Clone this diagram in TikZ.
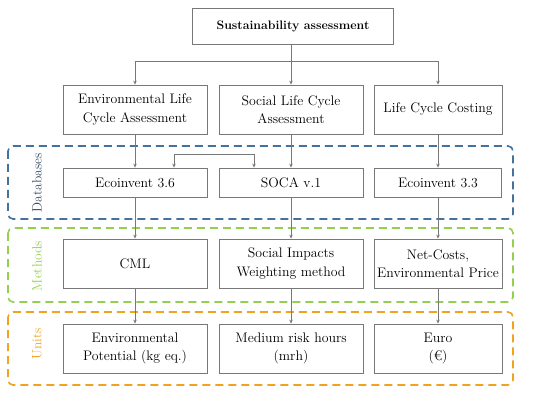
\documentclass[tikz,border=0pt]{standalone}
\usepackage{xcolor}
\usepackage{tikz}
\usetikzlibrary{arrows.meta, calc}

\definecolor{dbblue}{RGB}{68,114,158}
\definecolor{dbtext}{RGB}{52,73,102}
\definecolor{mgreen}{RGB}{146,208,80}
\definecolor{uorange}{RGB}{240,162,32}
\definecolor{boxgray}{RGB}{120,120,120}

\begin{document}
\begin{tikzpicture}[x=1pt, y=-1pt,
  box/.style={draw=boxgray, line width=0.8pt, align=center, minimum width=144pt,
    inner sep=2pt, font=\fontsize{13.8}{18.5}\selectfont},
  tall/.style={minimum height=49pt},
  short/.style={minimum height=29pt},
  arr/.style={draw=boxgray, line width=0.7pt, -{Stealth[length=4pt,width=3.5pt]}},
  group/.style={dashed, dash pattern=on 8pt off 5pt, line width=1.6pt, rounded corners=5pt},
  grouplabel/.style={rotate=90, font=\fontsize{13.5}{16}\selectfont}]
\useasboundingbox (0,0) rectangle (550,396);

% dashed groups
\draw[group, dbblue] (8,146) rectangle (513,219);
\draw[group, mgreen] (8,228) rectangle (513,302);
\draw[group, uorange] (8,312) rectangle (513,385);
\node[grouplabel, text=dbtext] (lbldb) at (37,183) {Databases};
\node[grouplabel, text=mgreen] (lblmeth) at (37,266) {Methods};
\node[grouplabel, text=uorange] (lblunit) at (37,344) {Units};

% top
\node[box, minimum width=201pt, minimum height=36pt, font=\fontsize{12.3}{18}\selectfont\bfseries] (top) at (293,26) {Sustainability assessment};

% assessments
\node[box, tall] (elca) at (135,109.5) {Environmental Life\\Cycle Assessment};
\node[box, tall] (slca) at (291,109.5) {Social Life Cycle\\Assessment};
\node[box, tall, minimum width=128pt] (lcc) at (438,109.5) {Life Cycle Costing};

% databases
\node[box, short] (eco36) at (135,182.5) {Ecoinvent 3.6};
\node[box, short] (soca) at (291,182.5) {SOCA v.1};
\node[box, short, minimum width=127pt] (eco33) at (438,182.5) {Ecoinvent 3.3};

% methods
\node[box, tall] (cml) at (135,263.5) {CML};
\node[box, tall] (sim) at (291,263.5) {Social Impacts\\Weighting method};
\node[box, tall, minimum width=128pt] (ncep) at (438,263.5) {Net-Costs,\\Environmental Price};

% units
\node[box, tall] (envpot) at (135,348.5) {Environmental\\Potential (kg eq.)};
\node[box, tall] (mrh) at (291,348.5) {Medium risk hours\\(mrh)};
\node[box, tall, minimum width=128pt] (euro) at (438,348.5) {Euro\\(\texteuro)};

% connectors
\coordinate (split) at (291,61);
\draw[boxgray, line width=0.7pt] (top.south -| split) -- (split);
\draw[arr] (split) -- (slca.north);
\draw[arr] (split) -| (elca.north);
\draw[arr] (split) -| (lcc.north);
\draw[arr] (elca) -- (eco36);
\draw[arr] (slca) -- (soca);
\draw[arr] (lcc) -- (eco33);
\draw[arr, {Stealth[length=4pt,width=3.5pt]}-{Stealth[length=4pt,width=3.5pt]}]
  ([xshift=39pt]eco36.north) -- ++(0,-13) -| ([xshift=-37pt]soca.north);
\draw[arr] (eco36) -- (cml);
\draw[arr] (soca) -- (sim);
\draw[arr] (eco33) -- (ncep);
\draw[arr] (cml) -- (envpot);
\draw[arr] (sim) -- (mrh);
\draw[arr] (ncep) -- (euro);
\end{tikzpicture}
\end{document}
